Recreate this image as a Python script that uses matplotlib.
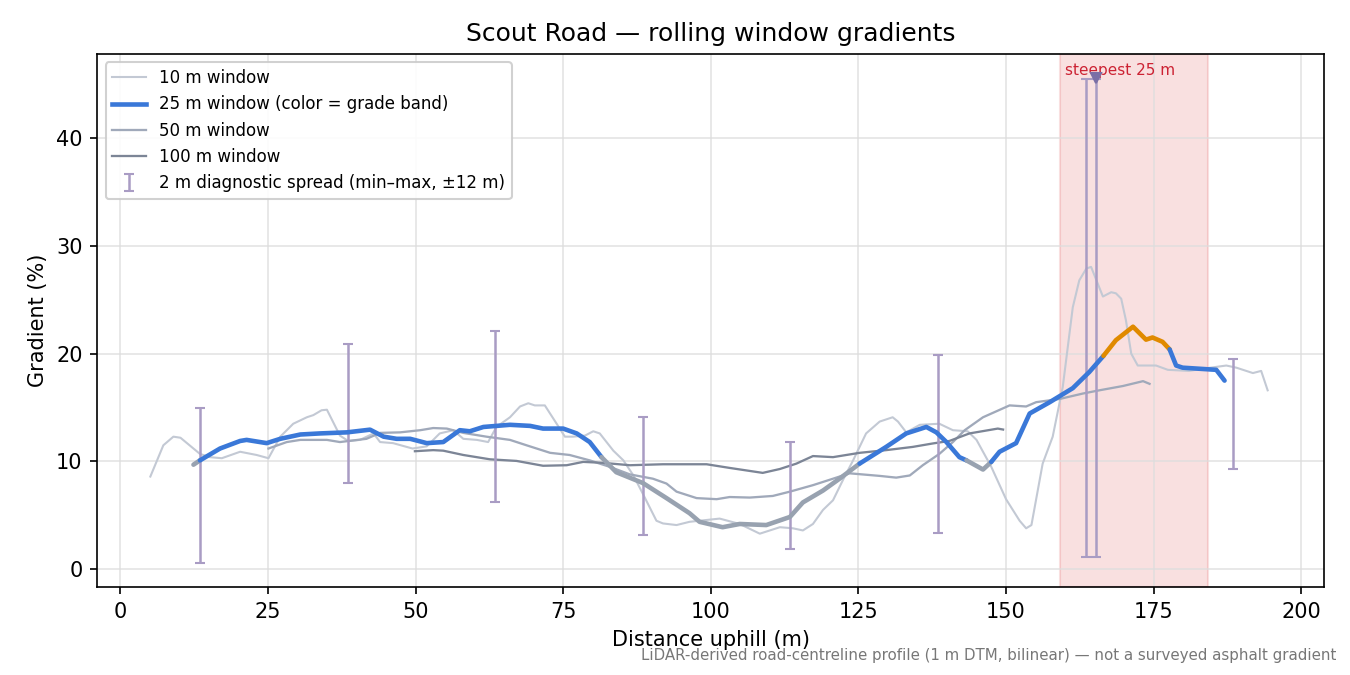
import numpy as np
import matplotlib
matplotlib.use("Agg")
import matplotlib.pyplot as plt
from matplotlib.lines import Line2D

# gradient (%) vs distance uphill (m)
w10_x = [5.1, 7.3, 9.0, 10.2, 13.5, 15.2, 17.2, 20.3, 23.1, 25.1, 27.1, 29.3, 31.6, 32.7, 34.1, 35.0,
         37.2, 38.6, 40.6, 42.9, 44.0, 46.2, 48.5, 49.5, 51.9, 54.1, 56.4, 58.1, 60.4, 62.3, 63.7, 66.0,
         67.7, 69.1, 70.2, 71.9, 73.9, 75.3, 76.7, 78.7, 80.1, 81.2, 83.5, 85.2, 86.9, 88.5, 90.8, 91.9,
         94.2, 96.4, 98.1, 101.5, 104.9, 108.3, 111.7, 113.9, 115.6, 117.3, 119.0, 120.7, 122.4, 124.1,
         126.3, 128.6, 130.8, 131.7, 133.1, 135.4, 138.7, 141.0, 143.5, 145.0, 147.5, 150.0, 152.3, 153.4,
         154.3, 156.2, 157.9, 159.6, 161.3, 162.4, 163.6, 164.4, 166.4, 167.8, 168.6, 169.5, 170.3, 171.2,
         172.3, 175.4, 177.4, 181.0, 183.3, 187.3, 189.0, 191.8, 193.2, 194.3]
w10_y = [8.6, 11.5, 12.3, 12.2, 10.7, 10.4, 10.3, 10.9, 10.6, 10.3, 12.3, 13.5, 14.1, 14.3, 14.75, 14.8,
         12.4, 11.9, 12.0, 12.6, 11.8, 11.7, 11.35, 11.2, 11.4, 12.6, 12.9, 12.1, 12.0, 11.8, 13.2, 14.1,
         15.1, 15.4, 15.2, 15.2, 13.5, 12.3, 12.3, 12.4, 12.8, 12.6, 11.0, 10.1, 8.7, 7.0, 4.5, 4.25,
         4.1, 4.4, 4.5, 4.7, 4.2, 3.3, 3.9, 3.8, 3.6, 4.2, 5.5, 6.4, 8.3, 10.1,
         12.6, 13.7, 14.1, 13.7, 12.7, 13.4, 13.5, 12.9, 12.8, 12.0, 9.5, 6.5, 4.5, 3.8,
         4.1, 9.8, 12.3, 16.9, 24.3, 26.8, 27.9, 28.05, 25.3, 25.7, 25.6, 25.1, 23.1, 20.0,
         18.9, 18.9, 18.5, 18.4, 18.6, 18.9, 18.7, 18.2, 18.4, 16.6]

w25_x = [12.4, 13.5, 16.9, 20.3, 21.4, 24.8, 27.1, 30.5, 33.8, 38.4, 42.3, 44.6, 46.8, 49.1, 51.9, 54.7,
         57.5, 59.2, 61.5, 66.0, 69.4, 71.6, 75.0, 77.3, 79.5, 81.5, 84.0, 88.5, 92.5, 96.4, 98.1, 102.0,
         104.9, 109.4, 113.4, 115.6, 119.0, 121.8, 125.2, 129.7, 133.1, 136.5, 138.2, 139.9, 142.1, 143.3,
         146.1, 147.5, 148.9, 151.7, 154.0, 157.4, 161.3, 164.1, 166.5, 168.6, 171.5, 173.7, 174.8, 176.5,
         177.7, 178.8, 179.9, 185.6, 187.0]
w25_y = [9.7, 10.1, 11.2, 11.9, 12.0, 11.7, 12.1, 12.5, 12.6, 12.7, 12.95, 12.3, 12.1, 12.1, 11.7, 11.8,
         12.9, 12.8, 13.2, 13.4, 13.3, 13.05, 13.05, 12.6, 11.8, 10.4, 9.0, 8.0, 6.6, 5.2, 4.4, 3.9,
         4.2, 4.1, 4.85, 6.2, 7.3, 8.4, 9.8, 11.35, 12.6, 13.2, 12.7, 11.8, 10.4, 10.1,
         9.25, 9.96, 10.9, 11.7, 14.45, 15.5, 16.8, 18.3, 19.8, 21.25, 22.5, 21.3, 21.5, 21.1,
         20.4, 18.9, 18.7, 18.5, 17.5]

w50_x = [25.1, 28.2, 30.5, 35.0, 37.2, 41.7, 44.0, 47.4, 50.8, 53.0, 55.3, 58.1, 62.0, 66.0, 68.8, 72.8,
         76.1, 79.5, 82.9, 86.3, 90.2, 92.5, 94.2, 97.6, 101.0, 103.2, 106.6, 110.5, 113.4, 117.3, 120.7,
         123.5, 128.6, 131.4, 133.7, 135.9, 138.7, 141.0, 143.0, 146.1, 150.6, 153.4, 155.1, 159.1, 163.0,
         165.8, 169.8, 173.2, 174.3]
w50_y = [11.2, 11.8, 12.0, 12.0, 11.8, 12.1, 12.65, 12.7, 12.9, 13.1, 13.05, 12.65, 12.3, 12.0, 11.5, 10.8,
         10.6, 10.1, 9.5, 8.8, 8.4, 7.95, 7.2, 6.6, 6.5, 6.7, 6.65, 6.8, 7.2, 7.8, 8.4,
         8.9, 8.66, 8.5, 8.7, 9.65, 10.7, 11.8, 12.9, 14.1, 15.2, 15.1, 15.5, 15.8, 16.3,
         16.6, 17.0, 17.45, 17.2]

w100_x = [49.9, 53.0, 54.7, 58.1, 62.6, 67.1, 71.6, 75.6, 78.4, 81.8, 86.3, 91.9, 96.4, 99.3, 103.2,
          108.8, 111.7, 114.5, 117.3, 120.7, 125.2, 129.7, 134.2, 137.6, 140.4, 143.8, 148.6, 149.5]
w100_y = [10.95, 11.05, 11.0, 10.6, 10.2, 10.05, 9.6, 9.65, 9.96, 9.87, 9.65, 9.74, 9.74, 9.74, 9.4,
          8.94, 9.3, 9.8, 10.5, 10.4, 10.8, 11.05, 11.35, 11.67, 11.9, 12.6, 13.05, 12.96]

# 2 m diagnostic spread (min-max within +-12 m)
spread_x = [13.5, 38.5, 63.5, 88.5, 113.5, 138.5, 163.5, 165.2, 188.5]
spread_lo = [0.6, 8.0, 6.2, 3.2, 1.9, 3.4, 1.1, 1.1, 9.3]
spread_hi = [15.0, 20.9, 22.1, 14.1, 11.8, 19.9, 45.5, 45.5, 19.5]
peak2_x, peak2_y = 165.2, 45.6

steep_lo, steep_hi = 159.2, 184.2

c10, c50, c100 = "#c3c9d4", "#a0a9ba", "#7c8596"
c_low, c_mid, c_high = "#98a2b0", "#3a78d8", "#e08a00"
c_spread = "#a99cc4"


def band(g):
    if g < 10:
        return c_low
    if g < 20:
        return c_mid
    return c_high


fig, ax = plt.subplots(figsize=(9, 4.5), dpi=150)
fig.subplots_adjust(left=0.072, right=0.981, top=0.92, bottom=0.13)

ax.axvspan(steep_lo, steep_hi, facecolor="#d62728", alpha=0.14, edgecolor="#d62728", lw=1, zorder=0)
ax.text(steep_lo + 0.8, 46.3, "steepest 25 m", color="#cc2233", fontsize=7.3, ha="left", va="center")

ax.plot(w10_x, w10_y, color=c10, lw=1.0, zorder=2)
ax.plot(w50_x, w50_y, color=c50, lw=1.1, zorder=2)
ax.plot(w100_x, w100_y, color=c100, lw=1.1, zorder=2)

sx = np.array(spread_x)
lo = np.array(spread_lo)
hi = np.array(spread_hi)
spread = ax.errorbar(sx, (lo + hi) / 2, yerr=[(hi - lo) / 2, (hi - lo) / 2], fmt="none",
                     ecolor=c_spread, elinewidth=1.2, capsize=2.5, capthick=1.0, zorder=3)
ax.plot([peak2_x], [peak2_y], marker="v", color="#7b6fa6", markersize=5, zorder=4)

# 25 m window coloured by grade band, drawn as runs of equal colour
xs = np.array(w25_x)
ys = np.array(w25_y)
cols = [band((ys[i] + ys[i + 1]) / 2) for i in range(len(xs) - 1)]
start = 0
for i in range(1, len(cols) + 1):
    if i == len(cols) or cols[i] != cols[start]:
        ax.plot(xs[start:i + 1], ys[start:i + 1], color=cols[start], lw=2.2,
                solid_capstyle="round", solid_joinstyle="round", zorder=5)
        start = i

ax.set_xlim(-3.9, 203.9)
ax.set_ylim(-1.67, 47.8)
ax.set_xticks([0, 25, 50, 75, 100, 125, 150, 175, 200])
ax.set_yticks([0, 10, 20, 30, 40])
ax.grid(True, color="#dddddd", lw=0.8, alpha=0.8)
ax.set_axisbelow(True)

ax.set_title("Scout Road — rolling window gradients", fontsize=12)
ax.set_xlabel("Distance uphill (m)", fontsize=10)
ax.set_ylabel("Gradient (%)", fontsize=10)

handles = [
    Line2D([], [], color=c10, lw=1.0),
    Line2D([], [], color=c_mid, lw=2.2),
    Line2D([], [], color=c50, lw=1.1),
    Line2D([], [], color=c100, lw=1.1),
    spread,
]
labels = ["10 m window", "25 m window (color = grade band)", "50 m window", "100 m window",
          "2 m diagnostic spread (min–max, ±12 m)"]
ax.legend(handles, labels, loc="upper left", fontsize=8, framealpha=0.9)

fig.text(0.99, 0.018, "LiDAR-derived road-centreline profile (1 m DTM, bilinear) — not a surveyed asphalt gradient",
         ha="right", va="bottom", fontsize=7.2, color="#777777")

fig.savefig("out.png", dpi=150)
